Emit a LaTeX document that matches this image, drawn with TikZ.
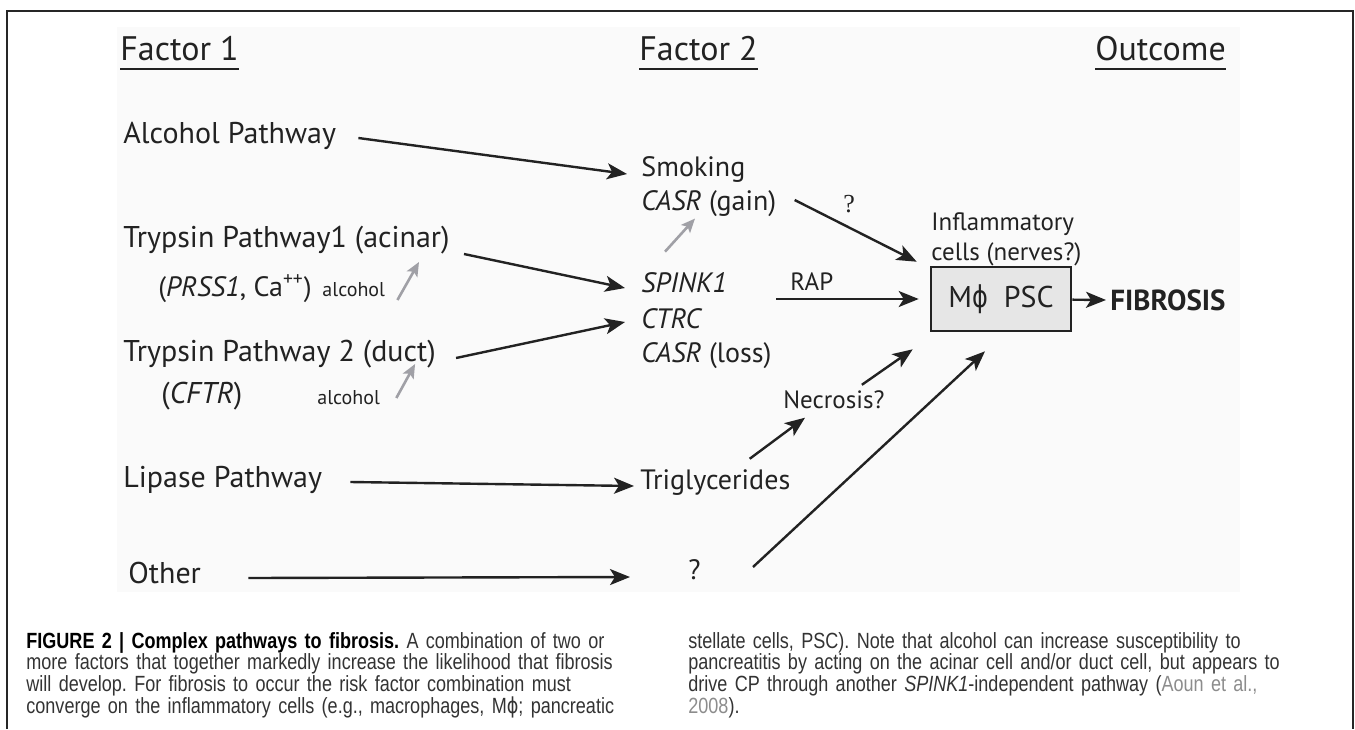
\documentclass[tikz,border=0pt]{standalone}
\usepackage{fontspec}
\setmainfont{PT Sans}
\newfontfamily\qfont{Liberation Serif}
\newfontfamily\grkfont{DejaVu Sans}
\newfontfamily\capfont[FakeStretch=0.82]{Liberation Sans}
\usetikzlibrary{arrows.meta}
\definecolor{inkgray}{RGB}{34,34,34}
\definecolor{alcgray}{RGB}{160,160,166}
\definecolor{boxgray}{RGB}{230,230,230}
\definecolor{citegray}{RGB}{140,140,140}
\definecolor{panel}{RGB}{250,250,250}

\newcommand{\fullline}[2][\linewidth]{\makebox[#1][s]{#2}}
\newcommand{\Mphi}{M{\grkfont\addfontfeature{FakeStretch=0.8}ϕ}}

\tikzset{
  txt/.style={anchor=base west, inner sep=0pt, text=inkgray},
  hdr/.style={txt, font=\fontsize{17}{20}\selectfont},
  fac/.style={txt, font=\fontsize{15}{18}\selectfont},
  midcol/.style={txt, font=\fontsize{14}{17}\selectfont},
  sml/.style={txt, font=\fontsize{12.5}{15}\selectfont},
  tiny/.style={txt, font=\fontsize{10}{12}\selectfont},
  arr/.style={-{Stealth[length=10pt,width=8pt,inset=2.5pt]}, line width=1.2pt, inkgray},
  garr/.style={-{Stealth[length=7pt,width=6pt,inset=1.5pt]}, line width=1.3pt, alcgray},
  capbox/.style={anchor=base west, inner sep=0pt, align=left, text=black!80,
    font=\capfont\fontsize{11}{10.85}\selectfont\frenchspacing},
}

\begin{document}
\begin{tikzpicture}[x=0.5pt, y=-0.5pt]
    \useasboundingbox (0,0) rectangle (1355,729);
    \fill[panel] (117,27) rectangle (1240,592);
    \draw[line width=1pt, black!85] (7,729) |- (1353,11) -- (1353,729);

    % Titulos de columna
    \node[hdr] (f1) at (120,60) {Factor 1};
    \node[hdr] (f2) at (639,60) {Factor 2};
    \node[hdr] (out) at (1095,60) {Outcome};
    \foreach \h in {f1,f2,out}
        \draw[line width=1.4pt, inkgray] ([yshift=-4.5pt]\h.base west) -- ([yshift=-4.5pt]\h.base east);

    % Factor 1
    \node[fac] (alc) at (123,143) {Alcohol Pathway};
    \node[fac] (tp1) at (123,247) {Trypsin Pathway1 (acinar)};
    \node[txt, font=\fontsize{14}{17}\selectfont] (prss) at (158,296) {(\textit{PRSS1}, Ca\textsuperscript{++})};
    \node[tiny] (alc1) at ([xshift=5pt]prss.base east) {alcohol};
    \node[fac] (tp2) at (123,361) {Trypsin Pathway 2 (duct)};
    \node[fac] (cftr) at (161,403) {(\textit{CFTR})};
    \node[tiny] (alc2) at (317,404) {alcohol};
    \node[fac] (lip) at (123,487) {Lipase Pathway};
    \node[fac] (oth) at (128,583) {Other};

    % Factor 2
    \node[midcol] (smk) at (641,176) {Smoking};
    \node[midcol] (gain) at (641,210) {\textit{CASR} (gain)};
    \node[midcol] (spk) at (641,292) {\textit{SPINK1}};
    \node[midcol] (ctrc) at (641,328) {\textit{CTRC}};
    \node[midcol] (loss) at (641,362) {\textit{CASR} (loss)};
    \node[midcol] (tri) at (640,489) {Triglycerides};
    \node[midcol] (unk) at (688,579) {?};
    \node[sml] (nec) at (783,408) {Necrosis?};
    \node[txt, font=\qfont\fontsize{13}{15}\selectfont] (q) at (843,212) {?};
    \node[sml] (rap) at (790,290) {RAP};

    % Resultado
    \node[sml] (infl) at (931,230) {Inflammatory};
    \node[sml] (cells) at (931,260) {cells (nerves?)};
    \node[draw=inkgray, line width=1.3pt, fill=boxgray, minimum width=70pt, minimum height=32pt,
          inner sep=0pt, text=inkgray, font=\fontsize{15}{18}\selectfont] (box) at (1001,299) {\Mphi\ \ PSC};
    \node[anchor=west, inner sep=0pt, text=inkgray, font=\fontsize{14.5}{17}\selectfont\bfseries] (fib) at (1110,300) {FIBROSIS};

    % Flechas
    \draw[arr] ([xshift=11pt]alc.mid east) -- ([xshift=-7pt,yshift=-1.5pt]smk.mid west);
    \draw[arr] ([xshift=7pt]tp1.south east) -- ([xshift=-8pt,yshift=2pt]spk.base west);
    \draw[arr] ([xshift=10pt,yshift=1.5pt]tp2.base east) -- ([xshift=-8pt,yshift=3pt]ctrc.base west);
    \draw[arr] ([xshift=14pt]lip.mid east) -- ([xshift=-3pt,yshift=-1pt]tri.mid west);
    \draw[arr] ([xshift=23.5pt]oth.mid east) -- ([xshift=-29pt,yshift=-1.5pt]unk.mid west);
    \draw[garr] ([xshift=6pt,yshift=-2pt]alc1.base east) -- ([xshift=-15.5pt,yshift=-4pt]tp1.south east);
    \draw[garr] ([xshift=8pt,yshift=3pt]alc2.base east) -- ([xshift=-10.5pt,yshift=2pt]tp2.south east);
    \draw[garr] ([xshift=12pt,yshift=10pt]spk.north west) -- ([xshift=27pt,yshift=-1pt]gain.south west);
    \draw[arr] ([xshift=9pt,yshift=2.5pt]gain.mid east) -- ([xshift=-6.5pt,yshift=2pt]box.north west);
    \draw[arr] ([xshift=-7pt,yshift=-4.5pt]rap.base west) -- ([xshift=-5.5pt]box.west);
    \draw[arr] (box) -- ([xshift=-2pt]fib.west);
    \draw[arr] ([xshift=-20.5pt,yshift=5pt]tri.north east) -- ([xshift=11pt,yshift=-4.5pt]nec.south west);
    \draw[arr] ([xshift=-11.5pt,yshift=2.5pt]nec.north east) -- ([xshift=-8.5pt,yshift=-8.5pt]box.south west);
    \draw[arr] ([xshift=26pt,yshift=3.5pt]unk.mid east) -- ([xshift=-8pt,yshift=-9.5pt]box.south);

    % Pie de figura
    \node[capbox, text width=299.5pt] (cap1) at (26,648) {%
        \fullline{{\color{black}\bfseries FIGURE 2 | Complex pathways to fibrosis.} A combination of two or}\\
        \fullline{more factors that together markedly increase the likelihood that fibrosis}\\
        will develop. For fibrosis to occur the risk factor combination must\\
        \fullline{converge on the inflammatory cells (e.g., macrophages, \Mphi; pancreatic}};
    \node[capbox, text width=318pt] (cap2) at (688,648) {%
        \fullline{stellate cells, PSC). Note that alcohol can increase susceptibility to}\\
        \fullline{pancreatitis by acting on the acinar cell and/or duct cell, but appears to}\\
        \fullline[302pt]{drive CP through another \textit{SPINK1}-independent pathway ({\color{citegray}Aoun et al.,}}\\
        {\color{citegray}2008}).};

\end{tikzpicture}
\end{document}
